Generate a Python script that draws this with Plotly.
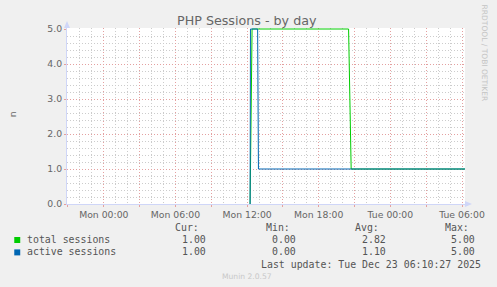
import plotly.graph_objects as go

# ---------------- data ----------------
series_names = ["total sessions", "active sessions"]
series_colors = ["#00cc00", "#0066b3"]

total_times = ["2025-12-22 12:15", "2025-12-22 12:25", "2025-12-22 20:30",
               "2025-12-22 20:43", "2025-12-23 06:15"]
total_vals = [0, 5, 5, 1, 1]

active_times = ["2025-12-22 12:15", "2025-12-22 12:17", "2025-12-22 12:53",
                "2025-12-22 12:57", "2025-12-23 06:15"]
active_vals = [0, 5, 5, 1, 1]

cur_vals = ["1.00", "1.00"]
min_vals = ["0.00", "0.00"]
avg_vals = ["2.82", "1.10"]
max_vals = ["5.00", "5.00"]

x_tickvals = ["2025-12-21 21:00", "2025-12-22 00:00", "2025-12-22 03:00",
              "2025-12-22 06:00", "2025-12-22 09:00", "2025-12-22 12:00",
              "2025-12-22 15:00", "2025-12-22 18:00", "2025-12-22 21:00",
              "2025-12-23 00:00", "2025-12-23 03:00", "2025-12-23 06:00"]
x_ticktext = ["", "Mon 00:00", "", "Mon 06:00", "", "Mon 12:00", "",
              "Mon 18:00", "", "Tue 00:00", "", "Tue 06:00"]
y_tickvals = [0, 1, 2, 3, 4, 5]
x_range = ["2025-12-21 20:55", "2025-12-23 06:15"]

title_text = "PHP Sessions - by day"
y_label = "n"
last_update = "Last update: Tue Dec 23 06:10:27 2025"
munin_ver = "Munin 2.0.57"
side_text = "RRDTOOL / TOBI OETIKER"

# ---------------- layout helpers ----------------
W_PX, H_PX = 497, 287
L, R, T, B = 67, 467, 28, 204
PW, PH = R - L, B - T
FONT = "DejaVu Sans"
MONO = "DejaVu Sans Mono"
FC = "#666666"


def px(x):
    return (x - L) / PW


def py(y):
    return (B - y) / PH


fig = go.Figure()
fig.add_trace(go.Scatter(x=total_times, y=total_vals, mode="lines",
                         line=dict(color=series_colors[0], width=1),
                         name=series_names[0], hoverinfo="skip"))
fig.add_trace(go.Scatter(x=active_times, y=active_vals, mode="lines",
                         line=dict(color=series_colors[1], width=1),
                         name=series_names[1], hoverinfo="skip"))

MAJ = "#e4a0a0"
MIN = "#cccccc"
AX = "#CFD6F8"
DASH = "1px,2px"

fig.update_xaxes(type="date", range=x_range, tickmode="array",
                 tickvals=x_tickvals, ticktext=x_ticktext,
                 showgrid=True, gridcolor=MAJ, griddash=DASH, gridwidth=1,
                 ticks="outside", ticklen=2, tickcolor=MAJ,
                 tickfont=dict(family=FONT, size=9.3, color=FC),
                 showline=True, linecolor=AX, linewidth=1, zeroline=False,
                 minor=dict(dtick=3600000, tick0="2025-12-22 00:00",
                            showgrid=True, gridcolor=MIN, griddash=DASH,
                            gridwidth=1, ticks=""),
                 fixedrange=True)
fig.update_yaxes(range=[0, 5 + 5 / 175], tickmode="array", tickvals=y_tickvals,
                 tickformat=".1f",
                 showgrid=True, gridcolor=MAJ, griddash=DASH, gridwidth=1,
                 ticks="outside", ticklen=2, tickcolor=MAJ,
                 tickfont=dict(family=FONT, size=9.3, color=FC),
                 showline=True, linecolor=AX, linewidth=1, zeroline=False,
                 minor=dict(dtick=0.2, tick0=0, showgrid=True, gridcolor=MIN,
                            griddash=DASH, gridwidth=1, ticks=""),
                 fixedrange=True)

shapes = []
# axis arrows
shapes.append(dict(type="path", xref="paper", yref="paper",
                   path=f"M {px(64)},{py(28)} L {px(70)},{py(28)} L {px(67)},{py(21)} Z",
                   fillcolor=AX, line=dict(width=0)))
shapes.append(dict(type="path", xref="paper", yref="paper",
                   path=f"M {px(467)},{py(201)} L {px(467)},{py(207)} L {px(474)},{py(204)} Z",
                   fillcolor=AX, line=dict(width=0)))
# legend swatches
for i, c in enumerate(series_colors):
    y0 = 237 + i * 12.4
    shapes.append(dict(type="rect", xref="paper", yref="paper",
                       x0=px(14), x1=px(20), y0=py(y0 + 6), y1=py(y0),
                       fillcolor=c, line=dict(width=0)))

ann = []


def text(s, x, y, size, family=FONT, color=FC, xanchor="left", angle=0):
    ann.append(dict(text=s, x=px(x), y=py(y), xref="paper", yref="paper",
                    xanchor=xanchor, yanchor="middle", showarrow=False,
                    borderpad=0, borderwidth=0, textangle=angle,
                    font=dict(family=family, size=size, color=color)))


text(title_text, 248.3, 20, 12.7, xanchor="center")
text(y_label, 12, 114, 9.3, xanchor="center", angle=-90)
text(side_text, 487.5, 53, 7.5, color="#c4c4c4", xanchor="center", angle=90)

MS = 9.9
LC = "#555555"
text("Cur:", 175.7, 227.5, MS, MONO, LC)
text("Min:", 266.7, 227.5, MS, MONO, LC)
text("Avg:", 356.7, 227.5, MS, MONO, LC)
text("Max:", 446.7, 227.5, MS, MONO, LC)
for i in range(len(series_names)):
    yy = 239.5 + i * 12.3
    text(series_names[i], 26.7, yy, MS, MONO, LC)
    text(cur_vals[i], 182.2, yy, MS, MONO, LC)
    text(min_vals[i], 273.3, yy, MS, MONO, LC)
    text(avg_vals[i], 363.3, yy, MS, MONO, LC)
    text(max_vals[i], 453.3, yy, MS, MONO, LC)
text(last_update, 261.7, 264, MS, MONO, LC)
text(munin_ver, 248, 276, 7.6, color="#c8c8c8", xanchor="center")

fig.update_layout(width=W_PX, height=H_PX,
                  margin=dict(l=L, r=W_PX - R, t=T, b=H_PX - B, pad=0),
                  paper_bgcolor="#f0f0f0", plot_bgcolor="#ffffff",
                  showlegend=False, shapes=shapes, annotations=ann)

fig.write_html("out.html", config={"displayModeBar": False})
